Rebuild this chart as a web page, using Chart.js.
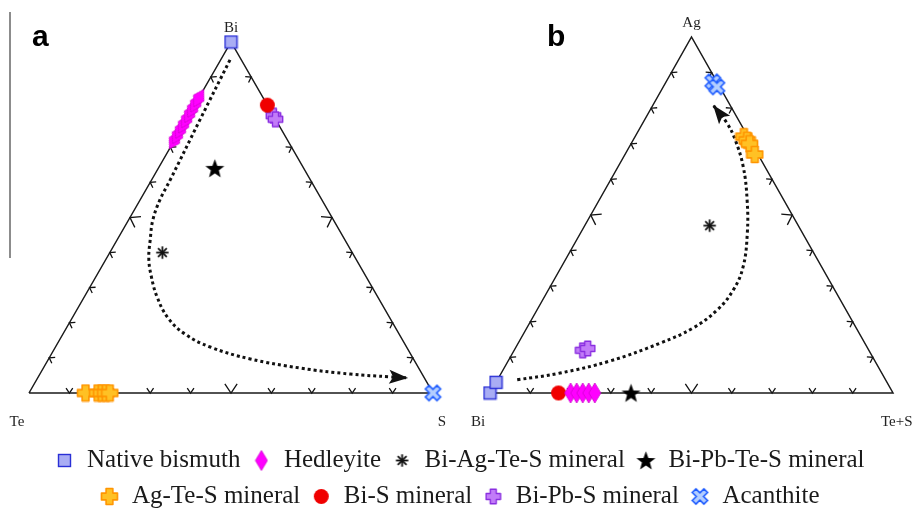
<!DOCTYPE html>
<html>
<head>
<meta charset="utf-8">
<script src="https://cdn.jsdelivr.net/npm/chart.js@4.4.1/dist/chart.umd.min.js"></script>
<style>
  html, body { margin: 0; padding: 0; background: #fff; overflow: hidden; }
  canvas { display: block; }
</style>
</head>
<body>
<canvas id="ternary" width="919" height="519"></canvas>
<script>
const seriesNames = ['Native bismuth', 'Hedleyite', 'Bi-Ag-Te-S mineral', 'Bi-Pb-Te-S mineral',
  'Ag-Te-S mineral', 'Bi-S mineral', 'Bi-Pb-S mineral', 'Acanthite'];

// corner labels: [top, left, right]
const cornersA = ['Bi', 'Te', 'S'];
const cornersB = ['Ag', 'Bi', 'Te+S'];
const tickSteps = [10, 20, 30, 40, 50, 60, 70, 80, 90];

// panel a, at.% [Bi, Te, S]
const nativeBiA = [[100, 0, 0]];
const hedleyiteA = [[72, 28, 0], [73.5, 26.5, 0], [75, 25, 0], [76.5, 23.5, 0], [78, 22, 0],
  [79.5, 20.5, 0], [81, 19, 0], [82.5, 17.5, 0], [84, 16, 0]];
const biAgTeSA = [[40, 47, 13]];
const biPbTeSA = [[64, 22, 14]];
const agTeSA = [[0, 86, 14], [0, 83, 17], [0, 82, 18], [0, 81, 19], [0, 80, 20]];
const biSA = [[82, 0, 18]];
const biPbSA = [[79, 0, 21], [78, 0, 22]];
const acanthiteA = [[0, 0, 100]];
// dotted trend in panel a: [Bi, S]
const curveA = [[94.9, 2.3], [77.8, 3.4], [60.7, 4.6], [55, 4.9], [49.3, 6], [43.6, 8.2], [38.5, 10.4],
  [33.6, 13.4], [27.4, 18], [21.4, 23.7], [16.8, 30.2], [13.1, 38.3], [9.7, 49.9], [7.1, 63.6],
  [5.4, 76.8], [4.6, 87.1], [4.3, 91.7]];

// panel b, at.% [Ag, Bi, Te+S]
const nativeBiB = [[0, 100, 0], [3, 97, 0]];
const hedleyiteB = [[0, 80, 20], [0, 78.5, 21.5], [0, 77, 23], [0, 75.5, 24.5], [0, 74, 26]];
const biAgTeSB = [[47, 22, 31]];
const biPbTeSB = [[0, 65, 35]];
const agTeSB = [[72, 1, 27], [71, 0.7, 28.3], [70, 0.6, 29.4], [67, 0.8, 32.2]];
const biSB = [[0, 83, 17]];
const biPbSB = [[12, 71, 17], [12.5, 69.5, 18]];
const acanthiteB = [[87.4, 1, 11.6], [86, 0.7, 13.3]];
// dotted trend in panel b: [Ag, Te+S]
const curveB = [[3.7, 4.9], [5.6, 14.6], [9, 25.3], [14, 35.2], [18.3, 41.3], [23.3, 44.7], [28.9, 45.9],
  [35.4, 45.1], [44.9, 41.4], [54.2, 36.7], [63.5, 31.1], [71.1, 25.3], [75.8, 20.9], [80.9, 14.9]];

const seriesA = [nativeBiA, hedleyiteA, biAgTeSA, biPbTeSA, agTeSA, biSA, biPbSA, acanthiteA];
const seriesB = [nativeBiB, hedleyiteB, biAgTeSB, biPbTeSB, agTeSB, biSB, biPbSB, acanthiteB];

// ternary (top, right) -> unit triangle
function toXY(top, right) {
  return { x: (right + top / 2) / 100, y: top / 100 };
}

// marker images
function mark(w, h, paint) {
  const c = document.createElement('canvas');
  c.width = w; c.height = h;
  const g = c.getContext('2d');
  g.translate(w / 2, h / 2);
  paint(g);
  return c;
}
function plusPath(g, hw, r) {
  g.beginPath();
  g.moveTo(-hw, -r); g.lineTo(hw, -r); g.lineTo(hw, -hw); g.lineTo(r, -hw); g.lineTo(r, hw);
  g.lineTo(hw, hw); g.lineTo(hw, r); g.lineTo(-hw, r); g.lineTo(-hw, hw); g.lineTo(-r, hw);
  g.lineTo(-r, -hw); g.lineTo(-hw, -hw); g.closePath();
}
const icons = [
  mark(15, 15, g => {
    g.fillStyle = '#a9adf4'; g.fillRect(-6, -6, 12, 12);
    g.strokeStyle = '#2a30d6'; g.lineWidth = 1.4; g.strokeRect(-6, -6, 12, 12);
  }),
  mark(14, 22, g => {
    g.beginPath(); g.moveTo(0, -10); g.lineTo(6, 0); g.lineTo(0, 10); g.lineTo(-6, 0); g.closePath();
    g.fillStyle = '#ff00ff'; g.fill(); g.strokeStyle = '#d000d0'; g.lineWidth = 0.8; g.stroke();
  }),
  mark(15, 15, g => {
    g.strokeStyle = '#111'; g.lineWidth = 1.8;
    for (let a = 0; a < 180; a += 45) {
      const r = a * Math.PI / 180;
      g.beginPath(); g.moveTo(-6.2 * Math.cos(r), -6.2 * Math.sin(r)); g.lineTo(6.2 * Math.cos(r), 6.2 * Math.sin(r)); g.stroke();
    }
  }),
  mark(21, 21, g => {
    g.beginPath();
    for (let i = 0; i < 10; i++) {
      const r = i % 2 ? 4.2 : 10;
      const a = (-90 + i * 36) * Math.PI / 180;
      g.lineTo(r * Math.cos(a), r * Math.sin(a) + 0.8);
    }
    g.closePath(); g.fillStyle = '#000'; g.fill();
  }),
  mark(19, 19, g => {
    plusPath(g, 3.4, 8); g.lineJoin = 'round';
    g.fillStyle = '#ffc124'; g.fill(); g.strokeStyle = '#ff9500'; g.lineWidth = 1.6; g.stroke();
  }),
  mark(17, 17, g => {
    g.beginPath(); g.arc(0, 0, 7.5, 0, Math.PI * 2); g.fillStyle = '#f00000'; g.fill();
  }),
  mark(17, 17, g => {
    plusPath(g, 3, 7.2); g.lineJoin = 'round';
    g.fillStyle = '#c27cf8'; g.fill(); g.strokeStyle = '#8a2fe0'; g.lineWidth = 1.4; g.stroke();
  }),
  mark(19, 19, g => {
    g.rotate(Math.PI / 4); plusPath(g, 2.6, 8.2);
    g.fillStyle = '#b3ceff'; g.fill(); g.strokeStyle = '#1e5cff'; g.lineWidth = 1.6; g.stroke();
  })
];

const datasets = [];
// panel b markers first: they feed the legend
seriesB.forEach((rows, i) => datasets.push({
  label: seriesNames[i], inLegend: true,
  data: rows.map(([ag, bi, ts]) => toXY(ag, ts)),
  xAxisID: 'xb', yAxisID: 'yb', pointStyle: icons[i], pointRadius: 8, clip: false
}));
seriesA.forEach((rows, i) => datasets.push({
  label: seriesNames[i] + ' (a)', inLegend: false,
  data: rows.map(([bi, te, s]) => toXY(bi, s)),
  xAxisID: 'xa', yAxisID: 'ya', pointStyle: icons[i], pointRadius: 8, clip: false,
  rotation: i === 1 ? 30 : 0
}));
const frame = [toXY(0, 0), toXY(0, 100), toXY(100, 0), toXY(0, 0)];
[['xa', 'ya', curveA], ['xb', 'yb', curveB]].forEach(([xs, ys, curve]) => {
  datasets.push({
    label: 'frame', inLegend: false, data: frame, xAxisID: xs, yAxisID: ys, showLine: true,
    borderColor: '#1a1a1a', borderWidth: 1.5, pointRadius: 0, tension: 0, clip: false
  });
  datasets.push({
    label: 'trend', inLegend: false, isTrend: true, data: curve.map(([t, r]) => toXY(t, r)),
    xAxisID: xs, yAxisID: ys, showLine: true, borderColor: '#111', borderWidth: 3,
    borderDash: [3, 3], borderCapStyle: 'butt', pointRadius: 0, tension: 0.4, clip: false
  });
});

function px(chart, xs, ys, top, right) {
  const p = toXY(top, right);
  return [chart.scales[xs].getPixelForValue(p.x), chart.scales[ys].getPixelForValue(p.y)];
}

const decor = {
  id: 'decor',
  beforeDatasetsDraw(chart) {
    const g = chart.ctx;
    g.save();
    g.strokeStyle = '#111'; g.lineWidth = 1.3;
    [['xa', 'ya'], ['xb', 'yb']].forEach(([xs, ys]) => {
      const T = px(chart, xs, ys, 100, 0), L = px(chart, xs, ys, 0, 0), R = px(chart, xs, ys, 0, 100);
      [[L, R, T], [L, T, R], [R, T, L]].forEach(([P, Q, C]) => {
        tickSteps.forEach(t => {
          const ex = P[0] + (Q[0] - P[0]) * t / 100, ey = P[1] + (Q[1] - P[1]) * t / 100;
          let nx = -(Q[1] - P[1]), ny = Q[0] - P[0];
          const len = Math.hypot(nx, ny); nx /= len; ny /= len;
          if (nx * (C[0] - ex) + ny * (C[1] - ey) < 0) { nx = -nx; ny = -ny; }
          const size = t === 50 ? 11 : 6, a = 34 * Math.PI / 180;
          const c = Math.cos(a), s = Math.sin(a);
          g.beginPath();
          g.moveTo(ex + (nx * c - ny * s) * size, ey + (nx * s + ny * c) * size);
          g.lineTo(ex, ey);
          g.lineTo(ex + (nx * c + ny * s) * size, ey + (-nx * s + ny * c) * size);
          g.stroke();
        });
      });
    });
    g.restore();
  },
  afterDatasetsDraw(chart) {
    const g = chart.ctx;
    chart.data.datasets.forEach((ds, i) => {
      if (!ds.isTrend) return;
      const pts = chart.getDatasetMeta(i).data;
      const p1 = pts[pts.length - 1], p0 = pts[pts.length - 2];
      let dx = p1.x - p0.x, dy = p1.y - p0.y;
      const d = Math.hypot(dx, dy); dx /= d; dy /= d;
      const L = 19, W = 7;
      g.save();
      g.fillStyle = '#111';
      g.beginPath();
      g.moveTo(p1.x, p1.y);
      g.lineTo(p1.x - dx * L - dy * W, p1.y - dy * L + dx * W);
      g.lineTo(p1.x - dx * (L - 4), p1.y - dy * (L - 4));
      g.lineTo(p1.x - dx * L + dy * W, p1.y - dy * L - dx * W);
      g.closePath(); g.fill();
      g.restore();
    });
  },
  afterDraw(chart) {
    const g = chart.ctx;
    g.save();
    g.fillStyle = '#222';
    g.font = '15px "Liberation Serif"';
    g.textAlign = 'center';
    [['xa', 'ya', cornersA], ['xb', 'yb', cornersB]].forEach(([xs, ys, names]) => {
      const T = px(chart, xs, ys, 100, 0), L = px(chart, xs, ys, 0, 0), R = px(chart, xs, ys, 0, 100);
      g.textAlign = 'center';
      g.fillText(names[0], T[0], T[1] - 14);
      g.fillText(names[1], L[0] - 12, L[1] + 29);
      if (names[2].length > 1) { g.textAlign = 'left'; g.fillText(names[2], R[0] - 12, R[1] + 29); }
      else g.fillText(names[2], R[0] + 9, R[1] + 29);
    });
    g.fillStyle = '#000';
    g.font = 'bold 30px "Liberation Sans"';
    g.textAlign = 'left';
    g.fillText('a', 32, 38);
    g.fillText('b', 547, 38);
    g.strokeStyle = '#8c8c8c'; g.lineWidth = 2;
    g.beginPath(); g.moveTo(10, 12); g.lineTo(10, 258); g.stroke();
    g.restore();
  }
};

const hidden = { type: 'linear', display: false, bounds: 'data', min: 0, max: 1 };
const chart = new Chart(document.getElementById('ternary'), {
  type: 'scatter',
  data: { datasets },
  options: {
    responsive: false,
    devicePixelRatio: 1,
    animation: false,
    events: [],
    layout: { padding: 0 },
    scales: { xa: { ...hidden }, ya: { ...hidden }, xb: { ...hidden }, yb: { ...hidden } },
    plugins: {
      tooltip: { enabled: false },
      legend: {
        position: 'bottom',
        labels: {
          usePointStyle: true,
          pointStyleWidth: 20,
          padding: 11,
          color: '#1a1a1a',
          font: { family: 'Liberation Serif', size: 25 },
          filter: (item, data) => data.datasets[item.datasetIndex].inLegend
        }
      }
    }
  },
  plugins: [decor]
});

// pin triangle corners to their place in the figure
const corners = { xa: [29, 433], ya: [393, 42], xb: [490, 893], yb: [393, 37] };
const area = chart.chartArea;
Object.entries(corners).forEach(([id, [p0, p1]]) => {
  const sc = chart.options.scales[id];
  if (id[0] === 'x') {
    const k = p1 - p0;
    sc.min = -(p0 - area.left) / k;
    sc.max = sc.min + (area.right - area.left) / k;
  } else {
    const k = p0 - p1;
    sc.min = -(area.bottom - p0) / k;
    sc.max = sc.min + (area.bottom - area.top) / k;
  }
});
chart.update('none');
</script>
</body>
</html>
